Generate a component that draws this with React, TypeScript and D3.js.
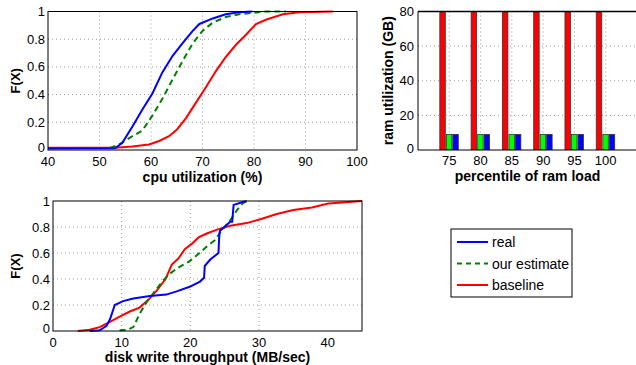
import React from "react";
import * as d3 from "d3";

// ---- Data ----
const cpuReal: [number, number][] = [
  [40, 0.01], [53, 0.012], [54.4, 0.05], [56.4, 0.17], [58.3, 0.29], [60.3, 0.41], [62.2, 0.56],
  [64.2, 0.68], [66.1, 0.77], [68.1, 0.86], [69.4, 0.91], [72, 0.95], [74.5, 0.98], [77.1, 0.995], [79.7, 1.0],
];
const cpuEstimate: [number, number][] = [
  [52, 0.015], [53.8, 0.04], [56.4, 0.1], [58.3, 0.14], [60.3, 0.25], [62.2, 0.37], [64.2, 0.51],
  [66.1, 0.64], [68.1, 0.77], [70, 0.86], [72, 0.92], [74.5, 0.96], [77.1, 0.98], [79.7, 0.99], [82.3, 1.0], [86.2, 1.0],
];
const cpuBaseline: [number, number][] = [
  [40, 0.017], [53, 0.017], [56.4, 0.025], [59.6, 0.04], [61.6, 0.065], [63.5, 0.1], [65.1, 0.15],
  [66.8, 0.23], [68.7, 0.34], [70.6, 0.45], [72.6, 0.57], [74.5, 0.67], [76.5, 0.76], [78.4, 0.83],
  [80.4, 0.91], [82.3, 0.94], [85.6, 0.98], [88.8, 0.995], [95.3, 1.0],
];

const diskReal: [number, number][] = [
  [5.35, 0], [6.8, 0.005], [7.8, 0.04], [8.3, 0.09], [9.0, 0.2], [10.2, 0.23], [11.7, 0.25], [14.1, 0.27],
  [16.5, 0.28], [18, 0.305], [19.9, 0.34], [21.4, 0.38], [22, 0.41], [22.1, 0.5], [22.9, 0.55], [24.1, 0.6],
  [24.2, 0.72], [24.3, 0.77], [25.8, 0.84], [26.1, 0.84], [26.3, 0.97], [27.2, 0.985], [28.2, 1.0],
];
const diskEstimate: [number, number][] = [
  [9.7, 0.005], [10.9, 0.01], [11.7, 0.03], [12.6, 0.13], [13.6, 0.22], [14.6, 0.29], [16.05, 0.39],
  [17, 0.44], [18, 0.48], [19, 0.51], [19.7, 0.53], [20.9, 0.58], [22.4, 0.65], [23.6, 0.7], [24.5, 0.77],
  [25.8, 0.85], [26.8, 0.93], [27.7, 0.985], [28.2, 1.0],
];
const diskBaseline: [number, number][] = [
  [3.6, 0], [5.35, 0.01], [6.8, 0.03], [8.3, 0.07], [9.7, 0.11], [11.2, 0.15], [12.6, 0.18], [13.9, 0.24],
  [15.1, 0.31], [16.4, 0.4], [17.3, 0.51], [18.3, 0.56], [19.2, 0.63], [20.2, 0.67], [21.2, 0.72],
  [22.4, 0.75], [23.9, 0.78], [25.8, 0.81], [28.2, 0.83], [30.2, 0.86], [32.6, 0.9], [35, 0.93],
  [37.7, 0.95], [40.1, 0.98], [42.6, 0.99], [45, 1.0],
];

const ramCategories = ["75", "80", "85", "90", "95", "100"];
const ramBaseline = [100, 100, 100, 100, 100, 100];
const ramEstimate = [9, 9, 9, 9, 9, 9];
const ramReal = [9, 9, 9, 9, 9, 9];

const cpuXTicks = [40, 50, 60, 70, 80, 90, 100];
const diskXTicks = [0, 10, 20, 30, 40];
const fTicks = [0, 0.2, 0.4, 0.6, 0.8, 1];
const ramYTicks = [0, 20, 40, 60, 80];

const seriesNames = ["real", "our estimate", "baseline"];

const BLUE = "#0000ff";
const GREEN = "#007f00";
const RED = "#ff0000";
const FONT = "'Liberation Sans', Arial, Helvetica, sans-serif";
const GRID = "#9a9a9a";

type Box = { x0: number; x1: number; y0: number; y1: number };

function CdfPlot(props: {
  box: Box;
  xDomain: [number, number];
  xTicks: number[];
  xLabel: string;
  series: { data: [number, number][]; color: string; dashed?: boolean }[];
  tickBaseline: number;
  labelBaseline: number;
  id: string;
}) {
  const { box, xDomain, xTicks, xLabel, series, tickBaseline, labelBaseline, id } = props;
  const x = d3.scaleLinear().domain(xDomain).range([box.x0, box.x1]);
  const y = d3.scaleLinear().domain([0, 1]).range([box.y1, box.y0]);
  const line = d3
    .line<[number, number]>()
    .x((d) => x(d[0]))
    .y((d) => y(d[1]));
  const fmt = (v: number) => (v === 0 || v === 1 ? String(v) : d3.format(".1f")(v));
  return (
    <g>
      <defs>
        <clipPath id={id}>
          <rect x={box.x0} y={box.y0 - 2} width={box.x1 - box.x0} height={box.y1 - box.y0 + 4} />
        </clipPath>
      </defs>
      <rect x={box.x0} y={box.y0} width={box.x1 - box.x0} height={box.y1 - box.y0} fill="#fff" />
      {xTicks.slice(1, -1).map((t) => (
        <line key={"gx" + t} x1={x(t)} x2={x(t)} y1={box.y0} y2={box.y1} stroke={GRID} strokeWidth={1} strokeDasharray="1,3" />
      ))}
      {fTicks.slice(1, -1).map((t) => (
        <line key={"gy" + t} x1={box.x0} x2={box.x1} y1={y(t)} y2={y(t)} stroke={GRID} strokeWidth={1} strokeDasharray="1,3" />
      ))}
      <g clipPath={`url(#${id})`}>
        {series.map((s, i) => (
          <path
            key={i}
            d={line(s.data) || ""}
            fill="none"
            stroke={s.color}
            strokeWidth={2}
            strokeDasharray={s.dashed ? "6,4" : undefined}
          />
        ))}
      </g>
      <rect x={box.x0} y={box.y0} width={box.x1 - box.x0} height={box.y1 - box.y0} fill="none" stroke="#000" strokeWidth={1} />
      {xTicks.map((t) => (
        <text key={"tx" + t} x={x(t)} y={tickBaseline} textAnchor="middle" fontSize={13} fontFamily={FONT}>
          {t}
        </text>
      ))}
      {fTicks.map((t) => (
        <text key={"ty" + t} x={box.x0 - 3} y={y(t) + (t === 0 ? 2 : 4.5)} textAnchor="end" fontSize={13} fontFamily={FONT}>
          {fmt(t)}
        </text>
      ))}
      <text x={(box.x0 + box.x1) / 2} y={labelBaseline} textAnchor="middle" fontSize={14} fontWeight="bold" fontFamily={FONT}>
        {xLabel}
      </text>
      <text
        transform={`translate(${20},${(box.y0 + box.y1) / 2}) rotate(-90)`}
        textAnchor="middle"
        fontSize={13}
        fontWeight="bold"
        fontFamily={FONT}
      >
        F(X)
      </text>
    </g>
  );
}

function RamPlot() {
  const box: Box = { x0: 418, x1: 637, y0: 11.5, y1: 150 };
  const x = d3.scaleLinear().domain([0, ramCategories.length + 1]).range([box.x0, box.x1]);
  const y = d3.scaleLinear().domain([0, 80]).range([box.y1, box.y0]);
  const unit = x(1) - x(0);
  const groups = [
    { values: ramBaseline, color: RED, off: -0.215 },
    { values: ramEstimate, color: "#00ff00", off: -0.005 },
    { values: ramReal, color: BLUE, off: 0.2 },
  ];
  const bw = 0.175 * unit;
  return (
    <g>
      <defs>
        <clipPath id="ramclip">
          <rect x={box.x0} y={box.y0} width={box.x1 - box.x0} height={box.y1 - box.y0} />
        </clipPath>
      </defs>
      {ramCategories.map((c, i) => (
        <line key={"gx" + c} x1={x(i + 1)} x2={x(i + 1)} y1={box.y0} y2={box.y1} stroke={GRID} strokeDasharray="1,3" />
      ))}
      {ramYTicks.slice(1, -1).map((t) => (
        <line key={"gy" + t} x1={box.x0} x2={box.x1} y1={y(t)} y2={y(t)} stroke={GRID} strokeDasharray="1,3" />
      ))}
      <g clipPath="url(#ramclip)">
        {groups.map((g, gi) =>
          g.values.map((v, i) => {
            const cx = x(i + 1) + g.off * unit;
            return (
              <rect
                key={gi + "-" + i}
                x={cx - bw / 2}
                y={y(v)}
                width={bw}
                height={y(0) - y(v)}
                fill={g.color}
                stroke="#333"
                strokeWidth={0.8}
              />
            );
          })
        )}
      </g>
      <line x1={box.x0} x2={box.x1} y1={box.y0} y2={box.y0} stroke="#000" strokeWidth={1.5} />
      <line x1={box.x0} x2={box.x1} y1={box.y1} y2={box.y1} stroke="#000" />
      <line x1={box.x0} x2={box.x0} y1={box.y0} y2={box.y1} stroke="#000" />
      {ramCategories.map((c, i) => (
        <text key={"tx" + c} x={x(i + 1)} y={165} textAnchor="middle" fontSize={13} fontFamily={FONT}>
          {c}
        </text>
      ))}
      {ramYTicks.map((t) => (
        <text key={"ty" + t} x={box.x0 - 4} y={y(t) + (t === 0 ? 3 : 4.5)} textAnchor="end" fontSize={13} fontFamily={FONT}>
          {t}
        </text>
      ))}
      <text x={(box.x0 + box.x1) / 2} y={181} textAnchor="middle" fontSize={14} fontWeight="bold" fontFamily={FONT}>
        percentile of ram load
      </text>
      <text
        transform={`translate(${393},${(box.y0 + box.y1) / 2}) rotate(-90)`}
        textAnchor="middle"
        fontSize={14}
        fontWeight="bold"
        fontFamily={FONT}
      >
        ram utilization (GB)
      </text>
    </g>
  );
}

function Legend() {
  const x0 = 451, y0 = 229, w = 121, h = 68;
  const colors = [BLUE, GREEN, RED];
  const ys = [242, 263.5, 285];
  return (
    <g>
      <rect x={x0} y={y0} width={w} height={h} fill="#fff" stroke="#000" strokeWidth={1} />
      {seriesNames.map((n, i) => (
        <g key={n}>
          <line x1={457} x2={488} y1={ys[i]} y2={ys[i]} stroke={colors[i]} strokeWidth={2} strokeDasharray={i === 1 ? "5,4" : undefined} />
          <text x={492} y={ys[i] + 5} fontSize={14} fontFamily={FONT}>
            {n}
          </text>
        </g>
      ))}
    </g>
  );
}

export default function App() {
  return (
    <svg width={636} height={365} style={{ position: "absolute", left: 0, top: 0, background: "#fff" }}>
      <rect width={636} height={365} fill="#fff" />
      <CdfPlot
        id="cpu"
        box={{ x0: 48, x1: 357, y0: 11.5, y1: 150 }}
        xDomain={[40, 100]}
        xTicks={cpuXTicks}
        xLabel="cpu utilization (%)"
        series={[
          { data: cpuBaseline, color: RED },
          { data: cpuEstimate, color: GREEN, dashed: true },
          { data: cpuReal, color: BLUE },
        ]}
        tickBaseline={166}
        labelBaseline={181.5}
      />
      <RamPlot />
      <CdfPlot
        id="disk"
        box={{ x0: 53, x1: 362, y0: 201, y1: 331 }}
        xDomain={[0, 45]}
        xTicks={diskXTicks}
        xLabel="disk write throughput (MB/sec)"
        series={[
          { data: diskBaseline, color: RED },
          { data: diskEstimate, color: GREEN, dashed: true },
          { data: diskReal, color: BLUE },
        ]}
        tickBaseline={346.5}
        labelBaseline={362}
      />
      <Legend />
    </svg>
  );
}
